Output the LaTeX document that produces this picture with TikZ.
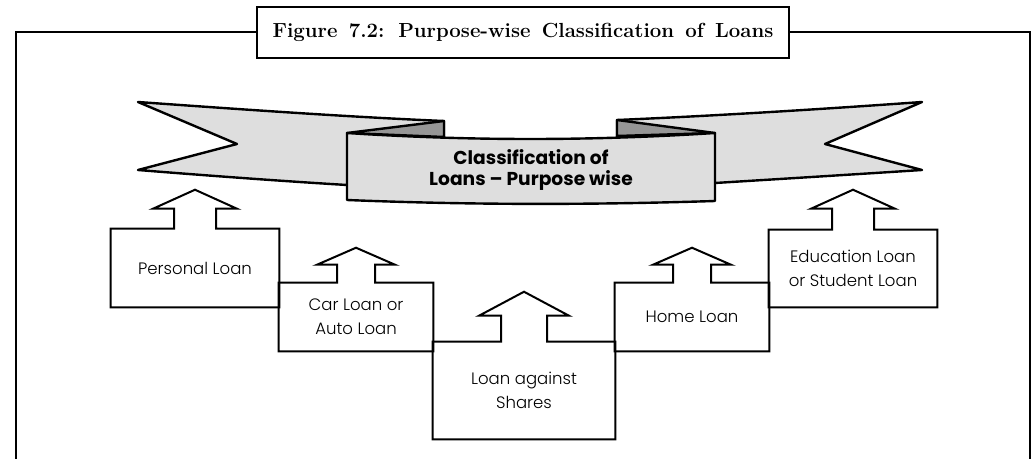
\documentclass[tikz,border=0pt]{standalone}
\usepackage{fontspec}
\usetikzlibrary{calc}

\IfFontExistsTF{Poppins Light}{\newfontfamily\boxfont{Poppins Light}}{\newfontfamily\boxfont{Poppins}}
\IfFontExistsTF{Poppins Bold}{\newfontfamily\bannerfont{Poppins Bold}}{\newfontfamily\bannerfont{Poppins}[UprightFont=*, UprightFeatures={FakeBold=1}]}

\definecolor{bannergray}{RGB}{222,222,222}
\definecolor{foldgray}{RGB}{150,150,150}

\begin{document}
\begin{tikzpicture}[x=0.75pt,y=-0.75pt]
\tikzstyle{loan box}=[inner sep=0pt,align=center,font=\boxfont\fontsize{12.4}{18}\selectfont]
\tikzstyle{box line}=[line width=1.5pt,line join=miter]
\tikzstyle{banner line}=[line width=1.8pt,line join=round,fill=bannergray]

\useasboundingbox (0,0) rectangle (1032,459);

% caption and frame
\node[draw,line width=1.5pt,minimum width=399pt,minimum height=38pt,inner sep=0pt,font={\bfseries\fontsize{15.3}{17}\selectfont\spaceskip=0.55em}] (caption) at (523,32.5) {Figure 7.2: Purpose-wise Classification of Loans};
\coordinate (frame left) at (16,459);
\coordinate (frame right) at (1030,459);
\draw[line width=1.5pt] (caption.west) -| (frame left);
\draw[line width=1.5pt] (caption.east) -| (frame right);

% banner
\draw[banner line] (138,102) .. controls (250,110) and (350,117) .. (444,121) -- (444,185) -- (347,185) .. controls (280,181) and (200,175) .. (138,170) -- (237,144) -- cycle;
\draw[banner line,fill=foldgray] (347,133) -- (444,121) -- (444,137) -- cycle;
\draw[banner line] (922,102) .. controls (810,110) and (710,116) .. (617,120) -- (617,185) -- (715,183) .. controls (780,179) and (860,174) .. (922,170) -- (825,144) -- cycle;
\draw[banner line,fill=foldgray] (617,120) -- (715,133) -- (617,136) -- cycle;
\draw[banner line] (347,133) .. controls (470,141) and (590,141) .. (715,133) -- (715,201) .. controls (590,205) and (470,205) .. (347,200) -- cycle;
\node[align=center,font=\bannerfont\fontsize{14}{15.5}\selectfont] (banner) at (531,170) {Classification of\\Loans – Purpose wise};

% loan boxes
\node[loan box,minimum width=126pt,minimum height=58.5pt] (personal) at (195,268) {Personal Loan};
\node[loan box,minimum width=115.5pt,minimum height=51pt] (car) at (356,317) {Car Loan or\\Auto Loan};
\node[loan box,minimum width=136.5pt,minimum height=72.75pt] (shares) at (524,390.5) {Loan against\\Shares};
\node[loan box,minimum width=115.5pt,minimum height=51pt] (home) at (692,317) {Home Loan};
\node[loan box,minimum width=126pt,minimum height=57.75pt] (education) at (853,268.5) {Education Loan\\or Student Loan};

% outlines with the up arrows
\foreach \n/\s/\h/\a/\b in {personal/21/42/20/19, car/19/39/18/17, shares/23/45/26/24, home/19/39/18/17, education/21/42/21/19}
  \draw[box line] (\n.north west) -- ($(\n.north)+(-\s,0)$) -- ++(0,-\a) -- ++(\s-\h,0) -- ++(\h,-\b) -- ++(\h,\b) -- ++(\s-\h,0) -- ++(0,\a) -- (\n.north east) -- (\n.south east) -- (\n.south west) -- cycle;
\end{tikzpicture}
\end{document}
